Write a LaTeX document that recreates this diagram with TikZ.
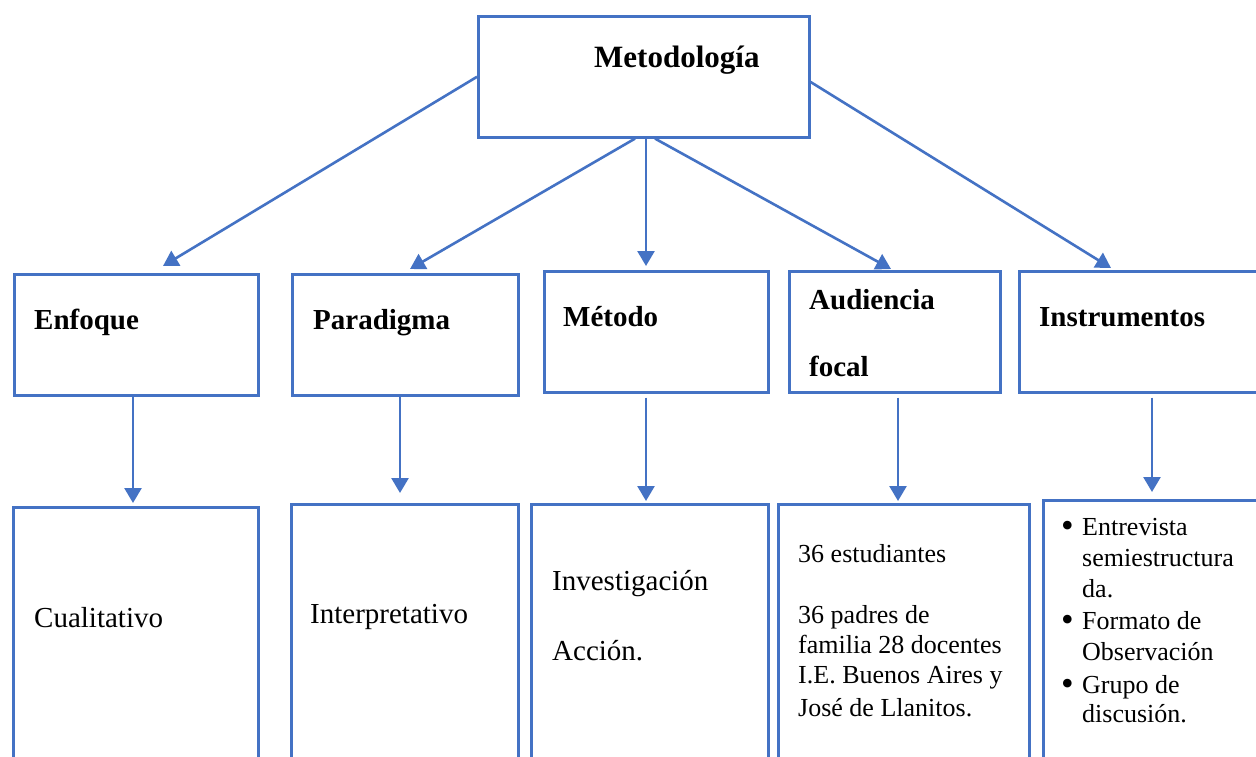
\documentclass[tikz,border=0pt]{standalone}
\usepackage{fontspec}
\setmainfont{Liberation Serif}
\usetikzlibrary{arrows.meta,calc}
\definecolor{wblue}{HTML}{4472C4}
\tikzset{
  box/.style={draw=wblue, line width=2.6pt, inner sep=0pt, anchor=north west},
  arr/.style={draw=wblue, line width=2.6pt, -{Triangle[length=15pt,width=17pt]}},
  ttl/.style={anchor=base west, inner sep=0pt, font=\fontsize{31}{36}\selectfont\bfseries},
  lbl/.style={anchor=base west, inner sep=0pt, font=\fontsize{29}{34}\selectfont\bfseries},
  txt/.style={anchor=base west, inner sep=0pt, font=\fontsize{29}{34}\selectfont},
  sml/.style={anchor=base west, inner sep=0pt, font=\fontsize{26}{30}\selectfont},
  bul/.style={anchor=base west, inner sep=0pt, font=\fontsize{36}{30}\selectfont},
}
\begin{document}
\begin{tikzpicture}[x=1pt,y=-1pt]
\path[use as bounding box, clip] (0,0) rectangle (1256,757);
\fill[white] (0,0) rectangle (1256,757);

% boxes
\node[box, minimum width=331pt, minimum height=121pt] (top) at (477,15) {};
\node[box, minimum width=244pt, minimum height=121pt] (enf) at (13,273) {};
\node[box, minimum width=226pt, minimum height=121pt] (par) at (291,273) {};
\node[box, minimum width=224pt, minimum height=121pt] (met) at (543,270) {};
\node[box, minimum width=211pt, minimum height=121pt] (aud) at (788,270) {};
\node[box, minimum width=300pt, minimum height=121pt] (ins) at (1018,270) {};
\node[box, minimum width=245pt, minimum height=300pt] (cual) at (12,506) {};
\node[box, minimum width=227pt, minimum height=300pt] (interp) at (290,503) {};
\node[box, minimum width=237pt, minimum height=300pt] (inv) at (530,503) {};
\node[box, minimum width=251pt, minimum height=300pt] (aud2) at (777,503) {};
\node[box, minimum width=300pt, minimum height=300pt] (ins2) at (1042,499) {};

% arrows from top
\draw[arr] (top.west) -- ($(enf.north west)+(150,-7)$);
\draw[arr] ($(top.south west)+(158,0)$) -- ($(par.north west)+(119,-4)$);
\draw[arr] ($(top.south west)+(169,0)$) -- ($(met.north west)+(103,-4)$);
\draw[arr] ($(top.south west)+(178,0)$) -- ($(aud.north west)+(103,-1)$);
\draw[arr] ($(top.north east)+(0,67)$) -- ($(ins.north west)+(93,-2)$);

% down arrows
\draw[arr] ($(enf.south west)+(120,0)$) -- ($(cual.north west)+(121,-3)$);
\draw[arr] ($(par.south west)+(109,0)$) -- ($(interp.north west)+(110,-10)$);
\draw[arr] ($(met.south west)+(103,4)$) -- ($(inv.north west)+(116,-2)$);
\draw[arr] ($(aud.south west)+(110,4)$) -- ($(aud2.north west)+(121,-2)$);
\draw[arr] ($(ins.south west)+(134,4)$) -- ($(ins2.north west)+(110,-7)$);

% texts
\node[ttl] (tMet) at (594,68) {Metodología};
\node[lbl] (tEnf) at (34,329) {Enfoque};
\node[lbl] (tPar) at (313,329) {Paradigma};
\node[lbl] (tMeto) at (563,326) {Método};
\node[lbl] (tAud1) at (809,309) {Audiencia};
\node[lbl] (tAud2) at (809,376) {focal};
\node[lbl] (tIns) at (1039,326) {Instrumentos};

\node[txt] (tCual) at (34,627) {Cualitativo};
\node[txt] (tInt) at (310,623) {Interpretativo};
\node[txt] (tInv1) at (552,590) {Investigación};
\node[txt] (tInv2) at (552,660) {Acción.};

\node[sml] (a1) at (798,562) {36 estudiantes};
\node[sml] (a2) at (798,623) {36 padres de};
\node[sml] (a3) at (798,653) {familia 28 docentes};
\node[sml] (a4) at (798,683) {I.E. Buenos Aires y};
\node[sml] (a5) at (798,716) {José de Llanitos.};

\node[bul] (b1) at (1061,537) {•};
\node[sml] (i1) at (1082,535) {Entrevista};
\node[sml] (i2) at (1082,566) {semiestructura};
\node[sml] (i3) at (1082,597) {da.};
\node[bul] (b2) at (1061,631) {•};
\node[sml] (i4) at (1082,629) {Formato de};
\node[sml] (i5) at (1082,660) {Observación};
\node[bul] (b3) at (1061,695) {•};
\node[sml] (i6) at (1082,693) {Grupo de};
\node[sml] (i7) at (1082,722) {discusión.};
\end{tikzpicture}
\end{document}
